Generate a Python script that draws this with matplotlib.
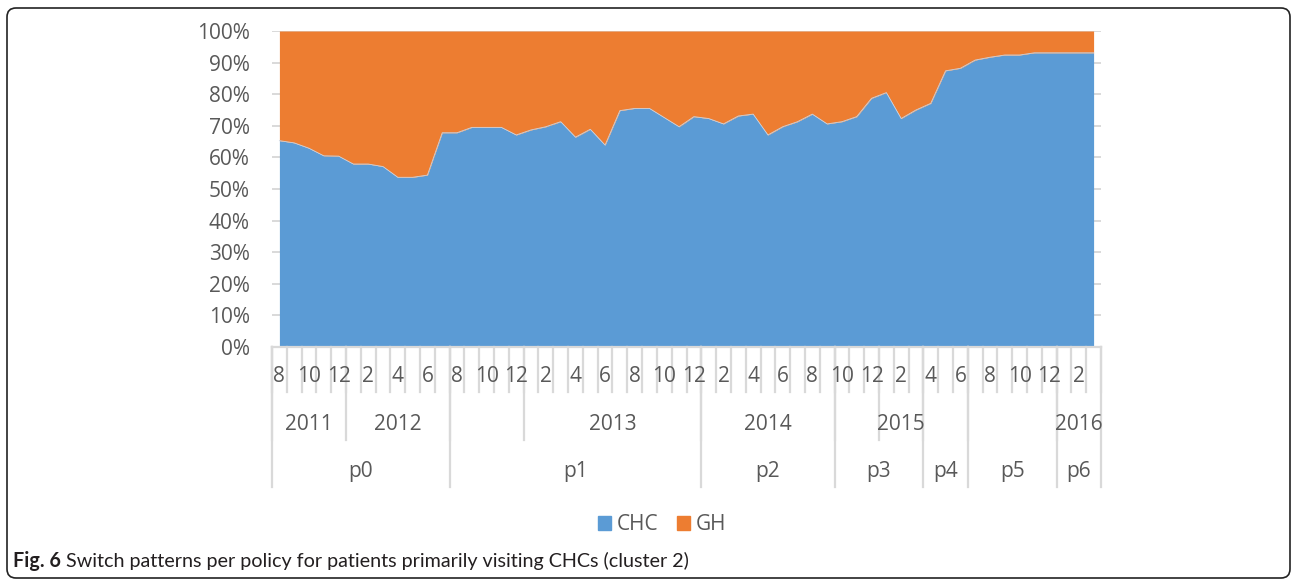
import matplotlib
matplotlib.use("Agg")
import matplotlib.pyplot as plt
from matplotlib.patches import Patch, FancyBboxPatch
from matplotlib.transforms import blended_transform_factory
from matplotlib.ticker import PercentFormatter

plt.rcParams["font.family"] = ["Open Sans", "DejaVu Sans"]

# ---------------------------
# Data (Aug 2011 .. Mar 2016), share of CHC visits in %
# ---------------------------
months = [8, 9, 10, 11, 12,
          1, 2, 3, 4, 5, 6, 7, 8, 9, 10, 11, 12,
          1, 2, 3, 4, 5, 6, 7, 8, 9, 10, 11, 12,
          1, 2, 3, 4, 5, 6, 7, 8, 9, 10, 11, 12,
          1, 2, 3, 4, 5, 6, 7, 8, 9, 10, 11, 12,
          1, 2, 3]

chc = [65.3, 64.6, 62.9, 60.5, 60.4, 57.9, 57.9, 57.1, 53.7, 53.7,
       54.4, 67.8, 67.8, 69.5, 69.5, 69.5, 67.1, 68.7, 69.7, 71.3,
       66.4, 68.9, 63.9, 74.8, 75.5, 75.5, 72.6, 69.7, 72.9, 72.3,
       70.6, 73.1, 73.7, 67.1, 69.7, 71.3, 73.7, 70.6, 71.3, 72.9,
       78.7, 80.5, 72.3, 75.0, 77.1, 87.4, 88.2, 90.8, 91.7, 92.4,
       92.4, 93.1, 93.1, 93.1, 93.1, 93.1]
gh = [100 - v for v in chc]

# (label, number of months) for the second and third axis rows
year_groups = [("2011", 5), ("2012", 7), ("", 5), ("2013", 12), ("2014", 9),
               ("", 3), ("2015", 3), ("", 3), ("", 6), ("2016", 3)]
policy_groups = [("p0", 12), ("p1", 17), ("p2", 9), ("p3", 6),
                 ("p4", 3), ("p5", 6), ("p6", 3)]

blue = "#5B9BD5"
orange = "#ED7D31"
grey_txt = "#595959"
grey_line = "#D9D9D9"
fs = 15

W, H = 1292, 580
fig = plt.figure(figsize=(W / 100, H / 100), dpi=100)
ax = fig.add_axes([272 / W, 1 - 347 / H, (1101 - 272) / W, (347 - 31) / H])

x = list(range(len(chc)))
top = [c + g for c, g in zip(chc, gh)]
ax.fill_between(x, 0, chc, color=blue, lw=0, zorder=2)
ax.fill_between(x, chc, top, color=orange, lw=0, zorder=2)
ax.plot(x, chc, color="#c9d4e2", lw=0.6, zorder=3)

ax.set_xlim(-0.5, len(chc) - 0.5)
ax.set_ylim(0, 100)
ax.set_yticks(range(0, 101, 10))
ax.yaxis.set_major_formatter(PercentFormatter(decimals=0))
ax.tick_params(axis="y", length=0, pad=16, labelsize=fs, labelcolor=grey_txt)
ax.set_xticks([])
ax.grid(axis="y", color=grey_line, lw=1.4, zorder=0)
ax.set_axisbelow(True)
for s in ["top", "right", "left"]:
    ax.spines[s].set_visible(False)
ax.spines["bottom"].set_color(grey_line)
ax.spines["bottom"].set_linewidth(1.6)
ax.spines["bottom"].set_zorder(4)

# ---------------------------
# Multi-level category axis
# ---------------------------
tr = blended_transform_factory(ax.transData, fig.transFigure)
y_axis = 1 - 347 / H
y_month = 1 - 392 / H
y_year = 1 - 440 / H
y_pol = 1 - 487 / H
lkw = dict(color=grey_line, lw=1.6, transform=tr, clip_on=False)

for k in range(len(chc) + 1):
    ax.plot([k - 0.5, k - 0.5], [y_axis, y_month], **lkw)
for i, m in enumerate(months):
    if i % 2 == 0:
        ax.text(i, 1 - 376 / H, str(m), transform=tr, ha="center", va="center",
                fontsize=fs, color=grey_txt)

start = 0
for label, n in year_groups:
    ax.plot([start - 0.5, start - 0.5], [y_axis, y_year], **lkw)
    ax.text(start + (n - 1) / 2, 1 - 424 / H, label, transform=tr,
            ha="center", va="center", fontsize=fs, color=grey_txt)
    start += n

start = 0
for label, n in policy_groups:
    ax.plot([start - 0.5, start - 0.5], [y_axis, y_pol], **lkw)
    ax.text(start + (n - 1) / 2, 1 - 472 / H, label, transform=tr,
            ha="center", va="center", fontsize=fs, color=grey_txt)
    start += n
ax.plot([start - 0.5, start - 0.5], [y_axis, y_pol], **lkw)

# ---------------------------
# Legend, caption, frame
# ---------------------------
handles = [Patch(color=blue, label="CHC"), Patch(color=orange, label="GH")]
leg = fig.legend(handles=handles, loc="center", bbox_to_anchor=(662 / W, 1 - 525 / H),
                 ncol=2, frameon=False, fontsize=fs, handlelength=0.65,
                 handleheight=0.65, handletextpad=0.25, columnspacing=0.9)
for t in leg.get_texts():
    t.set_color(grey_txt)

cap_font = ["Lato", "DejaVu Sans"]
cap_fs = 14.2
bold = fig.text(13 / W, 1 - 561 / H, "Fig. 6", fontsize=cap_fs, fontweight="bold",
                family=cap_font, color="#231f20", va="center", ha="left")
fig.canvas.draw()
bb = bold.get_window_extent()
fig.text((bb.x1 + 5) / W, 1 - 561 / H,
         "Switch patterns per policy for patients primarily visiting CHCs (cluster 2)",
         fontsize=cap_fs, family=cap_font, color="#231f20", va="center", ha="left")

frame = FancyBboxPatch((7, 2), 1283, 570, boxstyle="round,pad=0,rounding_size=9",
                       transform=None, fill=False, edgecolor="#222222", lw=1.2)
fig.patches.append(frame)

fig.savefig("out.png", dpi=100)
